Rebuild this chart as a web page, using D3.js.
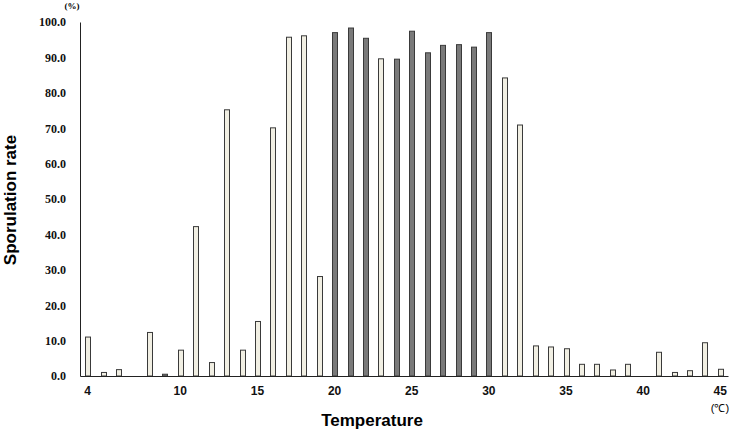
<!DOCTYPE html>
<html>
<head>
<meta charset="utf-8">
<script src="https://cdn.jsdelivr.net/npm/d3@7"></script>
<style>
body { margin: 0; background: #fff; }
</style>
</head>
<body>
<script>
// temperatures (°C) and sporulation rate (%)
var temps = d3.range(4, 46);
var rates = [11.0, 1.0, 1.8, 0, 12.3, 0.5, 7.3, 42.2, 3.8, 75.2,
	7.3, 15.4, 70.1, 95.7, 96.1, 28.1, 97.0, 98.3, 95.4, 89.6,
	89.5, 97.4, 91.3, 93.4, 93.6, 92.9, 97.0, 84.2, 70.9, 8.5,
	8.2, 7.7, 3.3, 3.3, 1.7, 3.3, 0, 6.7, 1.0, 1.5, 9.4, 1.9];
var darkTemps = [9, 20, 21, 22, 24, 25, 26, 27, 28, 29, 30];
var xTickLabels = [4, 10, 15, 20, 25, 30, 35, 40, 45];
var yTicks = [0, 10, 20, 30, 40, 50, 60, 70, 80, 90, 100];

var data = temps.map(function(t, i) { return {temp: t, rate: rates[i]}; });

var margin = {top: 22, right: 10, bottom: 54, left: 80};
var W = 738, H = 430;
var width = 728 - margin.left,
	height = 376 - margin.top;

var svg = d3.select('body').append('svg')
	.attr('width', W)
	.attr('height', H);

var g = svg.append('g')
	.attr('transform', 'translate(' + margin.left + ',' + margin.top + ')');

var x = d3.scaleBand().domain(temps).range([0, width]);
var y = d3.scaleLinear().domain([0, 100]).range([height, 0]);

var barW = 5;

g.selectAll('rect.bar')
	.data(data.filter(function(d) { return d.rate > 0; }))
	.enter().append('rect')
		.attr('class', 'bar')
		.attr('x', function(d) { return Math.round(x(d.temp) + x.bandwidth() / 2 - barW / 2) + 0.5; })
		.attr('y', function(d) { return y(d.rate); })
		.attr('width', barW)
		.attr('height', function(d) { return height - y(d.rate); })
		.style('fill', function(d) { return darkTemps.indexOf(d.temp) >= 0 ? '#7a7a7a' : '#f1efe3'; })
		.style('stroke', '#3a3a3a')
		.style('stroke-width', 1);

// y axis
var yAxis = g.append('g')
	.call(d3.axisLeft(y).tickValues(yTicks).tickSize(0).tickPadding(14)
		.tickFormat(function(d) { return d.toFixed(1); }));
yAxis.select('.domain').attr('stroke', '#222');
yAxis.selectAll('text')
	.style('font-family', '"Liberation Serif", "DejaVu Serif", serif')
	.style('font-weight', 'bold')
	.style('font-size', '12px')
	.style('fill', '#111');

// x axis
var xAxis = g.append('g')
	.attr('transform', 'translate(0,' + height + ')')
	.call(d3.axisBottom(x).tickValues(xTickLabels).tickSize(0).tickPadding(10));
xAxis.select('.domain').attr('stroke', '#222');
xAxis.selectAll('text')
	.style('font-family', '"Liberation Sans", Arial, sans-serif')
	.style('font-weight', 'bold')
	.style('font-size', '12px')
	.style('fill', '#111');

// titles
svg.append('text')
	.attr('transform', 'rotate(-90)')
	.attr('x', -200)
	.attr('y', 16)
	.attr('text-anchor', 'middle')
	.style('font-family', '"Liberation Sans", Arial, sans-serif')
	.style('font-weight', 'bold')
	.style('font-size', '17px')
	.text('Sporulation rate');

svg.append('text')
	.attr('x', 372)
	.attr('y', 426)
	.attr('text-anchor', 'middle')
	.style('font-family', '"Liberation Sans", Arial, sans-serif')
	.style('font-weight', 'bold')
	.style('font-size', '17px')
	.text('Temperature');

svg.append('text')
	.attr('x', 72)
	.attr('y', 9)
	.attr('text-anchor', 'middle')
	.style('font-family', '"Liberation Serif", serif')
	.style('font-weight', 'bold')
	.style('font-size', '9px')
	.text('(%)');

svg.append('text')
	.attr('x', 720)
	.attr('y', 412)
	.attr('text-anchor', 'middle')
	.style('font-family', '"Liberation Sans", Arial, sans-serif')
	.style('font-size', '11px')
	.text('(℃)');
</script>
</body>
</html>
